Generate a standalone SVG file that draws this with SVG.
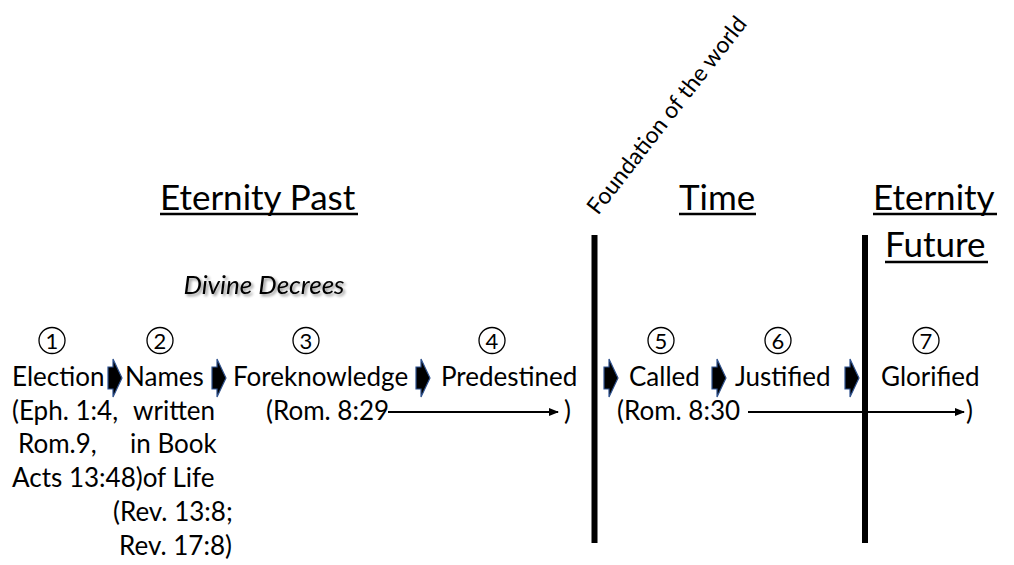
<svg xmlns="http://www.w3.org/2000/svg" width="1014" height="565" viewBox="0 0 1014 565">
<defs>
<style>
.t{font-family:Lato,"Open Sans","Liberation Sans",sans-serif;font-size:26px;fill:#000}
.h{font-family:Lato,"Open Sans","Liberation Sans",sans-serif;font-size:35px;fill:#000}
.n{font-family:Lato,"Open Sans",sans-serif;font-size:22px;fill:#000;text-anchor:middle}
.c{fill:none;stroke:#000;stroke-width:1.3}
.ul{stroke:#000;stroke-width:2.5}
.bar{fill:#000}
.chev{fill:#000;stroke:#2F528F;stroke-width:1.2;stroke-linejoin:miter}
.ar{stroke:#000;stroke-width:1.8;fill:none}
</style>
<filter id="sh" x="-10%" y="-30%" width="130%" height="170%">
<feGaussianBlur in="SourceAlpha" stdDeviation="1.5"/>
<feOffset dx="1.5" dy="2" result="b"/>
<feComponentTransfer><feFuncA type="linear" slope="0.45"/></feComponentTransfer>
<feMerge><feMergeNode/><feMergeNode in="SourceGraphic"/></feMerge>
</filter>
<marker id="ah" markerWidth="10" markerHeight="8" refX="9" refY="4" orient="auto" markerUnits="userSpaceOnUse">
<path d="M0,0 L10,4 L0,8 Z" fill="#000"/>
</marker>
<path id="cv" d="M0,-11 L5,-11 L5,-19 L14,0 L5,19 L5,11 L0,11 Z"/>
</defs>
<rect width="1014" height="565" fill="#fff"/>

<g id="headers">
<text class="h" x="160" y="210">Eternity Past</text>
<line class="ul" x1="160" y1="214" x2="358" y2="214"/>
<text class="h" x="679" y="210">Time</text>
<line class="ul" x1="679" y1="214" x2="756" y2="214"/>
<text class="h" x="873" y="210">Eternity</text>
<line class="ul" x1="873" y1="214" x2="997" y2="214"/>
<text class="h" x="885" y="257">Future</text>
<line class="ul" x1="885" y1="262" x2="988" y2="262"/>
<text x="264" y="294" filter="url(#sh)" style="font-family:Lato,'Open Sans',sans-serif;font-size:26px;font-style:italic;text-anchor:middle">Divine Decrees</text>
<text transform="translate(598,216) rotate(-52)" style="font-family:Lato,'Open Sans',sans-serif;font-size:23px">Foundation of the world</text>
</g>

<g id="dividers">
<rect class="bar" x="591.5" y="235" width="6" height="308"/>
<rect class="bar" x="862" y="235" width="6" height="308"/>
</g>

<g id="node1">
<circle class="c" cx="52" cy="340.5" r="13"/>
<text class="n" x="52" y="348.5">1</text>
<text class="t" x="12" y="386">Election</text>
<text class="t" x="12" y="420">(Eph. 1:4,</text>
<text class="t" x="18" y="453">Rom.9,</text>
<text class="t" x="12" y="487">Acts 13:48)of Life</text>
</g>
<g id="node2">
<circle class="c" cx="160" cy="340.5" r="13"/>
<text class="n" x="160" y="348.5">2</text>
<text class="t" x="125" y="386">Names</text>
<text class="t" x="133" y="420">written</text>
<text class="t" x="130" y="453">in Book</text>
<text class="t" x="113" y="521">(Rev. 13:8;</text>
<text class="t" x="119" y="555">Rev. 17:8)</text>
</g>
<g id="node3">
<circle class="c" cx="306" cy="340.5" r="13"/>
<text class="n" x="306" y="348.5">3</text>
<text class="t" x="233" y="386">Foreknowledge</text>
<text class="t" x="266" y="420">(Rom. 8:29</text>
</g>
<g id="node4">
<circle class="c" cx="492" cy="340.5" r="13"/>
<text class="n" x="492" y="348.5">4</text>
<text class="t" x="441" y="386">Predestined</text>
<text class="t" x="564" y="420">)</text>
</g>
<g id="node5">
<circle class="c" cx="661" cy="340.5" r="13"/>
<text class="n" x="661" y="348.5">5</text>
<text class="t" x="629" y="386">Called</text>
<text class="t" x="617" y="420">(Rom. 8:30</text>
</g>
<g id="node6">
<circle class="c" cx="778" cy="340.5" r="13"/>
<text class="n" x="778" y="348.5">6</text>
<text class="t" x="735" y="386">Justified</text>
</g>
<g id="node7">
<circle class="c" cx="926" cy="340.5" r="13"/>
<text class="n" x="926" y="348.5">7</text>
<text class="t" x="881" y="386">Glorified</text>
<text class="t" x="966" y="420">)</text>
</g>

<g id="connectors">
<use href="#cv" class="chev" x="108" y="378"/>
<use href="#cv" class="chev" x="212" y="378"/>
<use href="#cv" class="chev" x="416" y="378"/>
<use href="#cv" class="chev" x="604" y="378"/>
<use href="#cv" class="chev" x="712" y="378"/>
<use href="#cv" class="chev" x="845" y="378"/>
<line class="ar" x1="388" y1="412" x2="558" y2="412" marker-end="url(#ah)"/>
<line class="ar" x1="748" y1="412" x2="964" y2="412" marker-end="url(#ah)"/>
</g>
</svg>
